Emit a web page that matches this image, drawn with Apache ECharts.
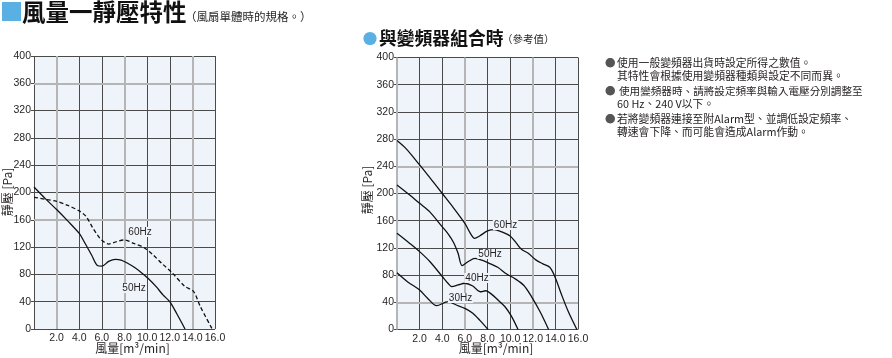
<!DOCTYPE html>
<html><head><meta charset="utf-8">
<script src="https://cdn.jsdelivr.net/npm/echarts@6/dist/echarts.min.js"></script>
<style>html,body{margin:0;padding:0;background:#fff}#c{width:892px;height:358px}</style>
</head><body><div id="c"></div><script>
// ---- data ----
const xTickLabels = ['', '2.0', '4.0', '6.0', '8.0', '10.0', '12.0', '14.0', '16.0'];
const yTickLabels = ['0', '40', '80', '120', '160', '200', '240', '280', '320', '360', '400'];

// single fan: airflow [m3/min], static pressure [Pa]
const single60Hz = [[0,193],[1,190],[2,187],[3,181],[4,173],[4.6,165],[5.2,148],[5.6,138],[6.0,130],[6.6,124.5],[7.3,128],[8.0,130.5],[8.8,125.5],[9.7,119.5],[10.5,109],[11.3,96],[12.2,82.5],[13.3,63],[14.1,55],[14.7,33],[15.75,0]];
const single50Hz = [[0,208],[1,191],[2,175],[3,158],[4,140],[4.4,129],[5.1,108],[5.6,93],[6.0,92],[6.6,99],[7.2,102],[7.7,101],[8.2,97],[8.9,90],[9.5,82.5],[10.1,74],[10.8,62],[11.4,50],[12.0,40],[12.6,23],[13.35,0]];

// with inverter (reference values)
const inv60Hz = [[0,278],[0.8,266],[2,242],[3.2,217],[4,200],[4.9,181],[6,156],[6.5,141],[6.85,134],[7.3,137.5],[8,145],[8.6,147],[9.2,144],[10,137.5],[10.55,127],[11,118],[11.6,112],[12.3,102],[12.9,96.5],[13.5,91.5],[13.95,78],[14.55,51],[15.15,26],[15.9,0]];
const inv50Hz = [[0,212.5],[1.1,198],[2,185.5],[2.9,173],[4,151],[4.5,141],[5,128],[5.4,112],[5.75,94],[6.3,100],[6.9,104.5],[7.5,102],[8.2,97],[8.9,91.5],[9.7,81.5],[10.4,75],[11.2,65],[11.9,48],[12.65,26],[13.4,0]];
const inv40Hz = [[0,141.5],[1.1,127],[2,114.5],[2.9,100],[4,78],[4.5,68],[4.85,63],[5.4,65.5],[6,68],[6.7,64],[7.35,55.5],[7.85,57],[8.35,52],[8.95,43],[9.55,33.5],[10.1,20],[10.7,0]];
const inv30Hz = [[0,83.5],[0.95,70],[2,58],[2.7,46],[3.5,35],[4.5,41],[5.25,36],[6,31],[6.7,24],[7.35,13],[8.05,0]];

// lighter (printed heavier) grid lines
const leftGrayX = [2, 8, 14];
const leftGrayY = [160, 360];
const rightGrayX = [0, 6, 12];
const rightGrayY = [40, 240];

const curveNames = ['60Hz', '50Hz', '40Hz', '30Hz'];
const notes = [
  '使用一般變頻器出貨時設定所得之數值。',
  '其特性會根據使用變頻器種類與設定不同而異。',
  '使用變頻器時、請將設定頻率與輸入電壓分別調整至',
  '60 Hz、240 V以下。',
  '若將變頻器連接至附Alarm型、並調低設定頻率、',
  '轉速會下降、而可能會造成Alarm作動。'
];

// ---- styling ----
const DARK = '#4a4a4a', GRAY = '#b5b5b5', NONE = 'rgba(0,0,0,0)';
const BG = '#eef4fa';
const LBL = 'Liberation Sans, Arial, sans-serif';
const CJK = '"Noto Sans CJK TC", "Noto Sans CJK JP", sans-serif';
const TXT = '#231f20';

function xAxis(grid) {
  return { type: 'value', gridIndex: grid, min: 0, max: 16, interval: 2,
    axisLine: { show: false }, axisTick: { show: false },
    axisLabel: { show: true, margin: 4, color: TXT, fontFamily: LBL, fontSize: 10.5,
      formatter: v => xTickLabels[Math.round(v / 2)] },
    splitLine: { show: true, showMinLine: true, showMaxLine: true, lineStyle: { color: DARK, width: 1 } } };
}
function yAxis(grid) {
  return { type: 'value', gridIndex: grid, min: 0, max: 400, interval: 40,
    axisLine: { show: false },
    axisTick: { show: true, length: 3, lineStyle: { color: DARK } },
    axisLabel: { show: true, margin: 3, color: TXT, fontFamily: LBL, fontSize: 10.5,
      formatter: v => yTickLabels[Math.round(v / 40)] },
    splitLine: { show: true, showMinLine: true, showMaxLine: true, lineStyle: { color: DARK, width: 1 } } };
}

function line(data, ai, dashed, grayX, grayY) {
  const s = { type: 'line', data: data, xAxisIndex: ai, yAxisIndex: ai, showSymbol: false, symbol: 'none',
    smooth: 0.3, silent: true, z: 5,
    lineStyle: { color: '#111', width: 1.3, type: dashed ? [4, 2.5] : 'solid' } };
  if (grayX) {
    s.markLine = { silent: true, symbol: 'none', z: 1, animation: false,
      label: { show: false },
      lineStyle: { color: GRAY, width: 2, type: 'solid' },
      emphasis: { disabled: true },
      data: grayX.map(v => ({ xAxis: v })).concat(grayY.map(v => ({ yAxis: v }))) };
  }
  return s;
}

function txt(text, x, y, size, opts) {
  return Object.assign({ type: 'text', x: x, y: y, silent: true, z: 50,
    style: Object.assign({ text: text, fill: TXT, fontSize: size, fontFamily: CJK, align: 'left', verticalAlign: 'middle' }, (opts && opts.style) || {}) },
    (opts && opts.el) || {});
}
function curveLabel(text, x, y) {
  return { type: 'text', x: x, y: y, z: 50, silent: true,
    style: { text: text, fill: TXT, fontSize: 10, fontFamily: LBL, align: 'center', verticalAlign: 'middle',
      backgroundColor: BG, padding: [0, 1] } };
}

const graphic = [
  { type: 'rect', shape: { x: 2, y: 2, width: 19, height: 19 }, style: { fill: '#5aafe3' } },
  txt('風量一靜壓特性', 22, 12.5, 23.5, { style: { fontWeight: 'bold', fill: '#111' } }),
  txt('（風扇單體時的規格。）', 185, 16.5, 11.5),
  { type: 'circle', shape: { cx: 370, cy: 38.5, r: 6.6 }, style: { fill: '#5aafe3' } },
  txt('與變頻器組合時', 379, 38.5, 17.8, { style: { fontWeight: 'bold', fill: '#111' } }),
  txt('（參考值）', 502, 39, 10.5),
  // axis names
  txt('風量[m³/min]', 132.5, 348, 12, { style: { align: 'center' } }),
  txt('風量[m³/min]', 496, 348, 12, { style: { align: 'center' } }),
  txt('靜壓 [Pa]', 7, 192, 12, { style: { align: 'center' }, el: { rotation: Math.PI / 2 } }),
  txt('靜壓 [Pa]', 367.5, 190, 12, { style: { align: 'center' }, el: { rotation: Math.PI / 2 } }),
  // curve labels
  curveLabel(curveNames[0], 140, 232),
  curveLabel(curveNames[1], 134, 288),
  curveLabel(curveNames[0], 505.5, 225),
  curveLabel(curveNames[1], 490, 254),
  curveLabel(curveNames[2], 477, 278),
  curveLabel(curveNames[3], 460.5, 298),
  // notes
  txt('●', 605, 63, 10.5, { style: { fill: '#555' } }),
  txt(notes[0], 617, 63, 10.8),
  txt(notes[1], 617, 76, 10.8),
  txt('●', 605, 91, 10.5, { style: { fill: '#555' } }),
  txt(notes[2], 619, 91, 10.6),
  txt(notes[3], 617, 103.5, 10.8),
  txt('●', 605, 119, 10.5, { style: { fill: '#555' } }),
  txt(notes[4], 617, 119, 10.8),
  txt(notes[5], 617, 131.5, 10.8)
];

const chart = echarts.init(document.getElementById('c'), null, { renderer: 'canvas' });
chart.setOption({
  animation: false,
  backgroundColor: '#fff',
  grid: [
    { left: 34, top: 56, width: 181, height: 273, show: true, backgroundColor: BG, borderWidth: 0, outerBoundsMode: 'none', containLabel: false },
    { left: 397, top: 57.5, width: 181, height: 272, show: true, backgroundColor: BG, borderWidth: 0, outerBoundsMode: 'none', containLabel: false }
  ],
  xAxis: [xAxis(0), xAxis(1)],
  yAxis: [yAxis(0), yAxis(1)],
  series: [
    line(single60Hz, 0, true, leftGrayX, leftGrayY),
    line(single50Hz, 0, false),
    line(inv60Hz, 1, false, rightGrayX, rightGrayY),
    line(inv50Hz, 1, false),
    line(inv40Hz, 1, false),
    line(inv30Hz, 1, false)
  ],
  graphic: graphic
});
</script></body></html>
